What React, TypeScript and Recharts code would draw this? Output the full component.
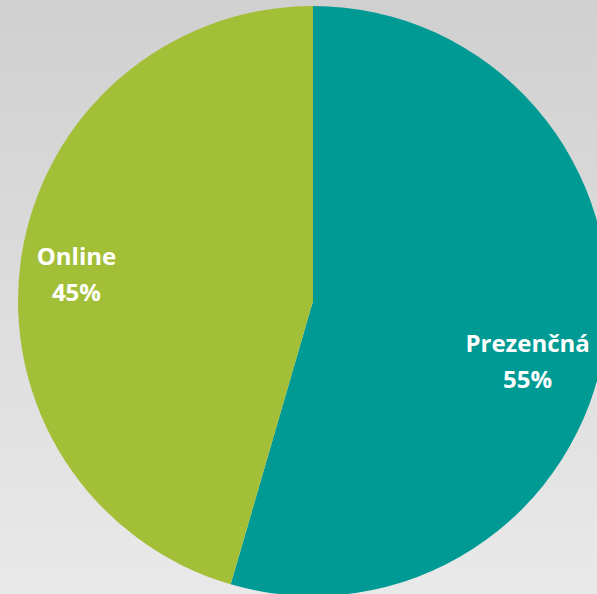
import { PieChart, Pie, Cell } from "recharts";

const categories = ["Prezenčná", "Online"];
const values = [54.5, 45.5];
const percentLabels = ["55%", "45%"];
const colors = ["#009a94", "#a3bf37"];

const data = categories.map((name, i) => ({ name, value: values[i], pct: percentLabels[i] }));

const RAD = Math.PI / 180;

// nudges so labels sit where the original put them
const labelNudge = [
  { r: 0.735, dy: 20 },
  { r: 0.81, dy: -2 },
];

function renderLabel(props: any) {
  const { cx, cy, midAngle, outerRadius, index, name } = props;
  const n = labelNudge[index];
  const x = cx + outerRadius * n.r * Math.cos(-midAngle * RAD);
  const y = cy + outerRadius * n.r * Math.sin(-midAngle * RAD) + n.dy;
  return (
    <text
      x={x}
      y={y}
      fill="#ffffff"
      textAnchor="middle"
      style={{ fontFamily: "'Open Sans', sans-serif", fontWeight: 700, fontSize: 24 }}
    >
      <tspan x={x} dy={0}>
        {name}
      </tspan>
      <tspan x={x} dy={36}>
        {data[index].pct}
      </tspan>
    </text>
  );
}

export default function App() {
  return (
    <div
      style={{
        position: "fixed",
        left: 0,
        top: 0,
        width: 597,
        height: 594,
        background: "linear-gradient(to bottom, #d0d0d0 0%, #e9e9e9 100%)",
        overflow: "hidden",
      }}
    >
      <PieChart width={597} height={594} margin={{ top: 0, right: 0, bottom: 0, left: 0 }}>
        <Pie
          data={data}
          dataKey="value"
          nameKey="name"
          cx={313}
          cy={301}
          outerRadius={295}
          startAngle={90}
          endAngle={-270}
          stroke="none"
          labelLine={false}
          label={renderLabel}
          isAnimationActive={false}
        >
          {data.map((d, i) => (
            <Cell key={d.name} fill={colors[i]} />
          ))}
        </Pie>
      </PieChart>
    </div>
  );
}
